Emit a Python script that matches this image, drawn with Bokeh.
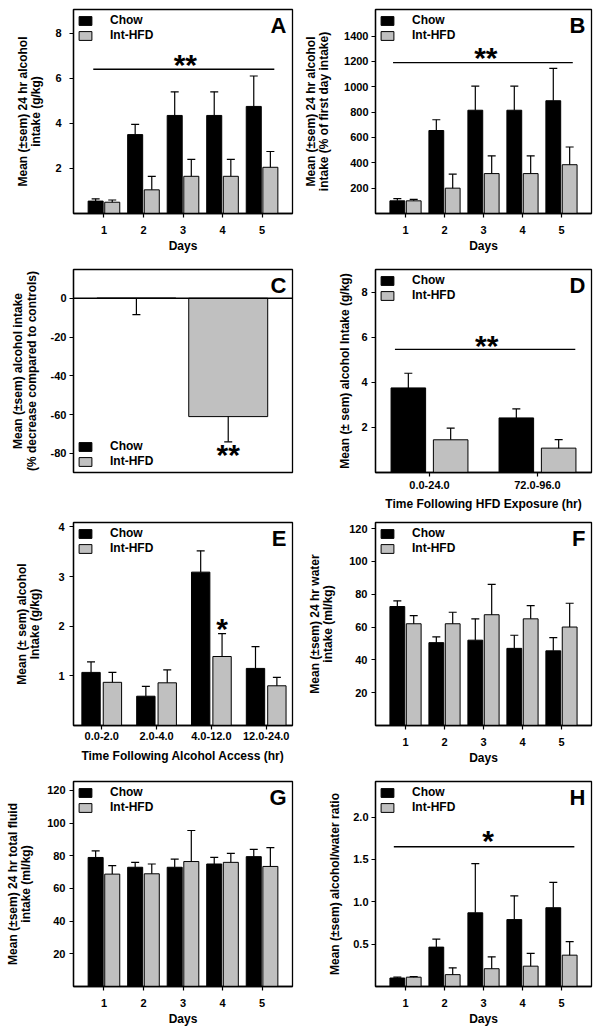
from bokeh.plotting import figure
from bokeh.models import (ColumnDataSource, Whisker, TeeHead, Legend, LegendItem,
                          Label, Span, FixedTicker, Range1d)
from bokeh.layouts import gridplot
from bokeh.embed import file_html
from bokeh.resources import INLINE

FONT = "Liberation Sans"
GRAY = "#c0c0c0"

# ---------------- data ----------------
days = [1, 2, 3, 4, 5]
day_labels = ["1", "2", "3", "4", "5"]

# A: 24 hr alcohol intake (g/kg)
a_chow = [0.55, 3.5, 4.35, 4.35, 4.75]
a_chow_err = [0.65, 3.95, 5.4, 5.4, 6.1]
a_hfd = [0.5, 1.05, 1.65, 1.65, 2.05]
a_hfd_err = [0.6, 1.65, 2.4, 2.4, 2.75]
a_sig_x = [0.73, 5.31]
a_sig_y = 6.4
a_star_x = 3.06

# B: % of first day intake
b_chow = [100, 655, 815, 815, 890]
b_chow_err = [118, 740, 1005, 1005, 1145]
b_hfd = [100, 200, 315, 315, 385]
b_hfd_err = [112, 310, 455, 455, 525]
b_sig_x = [0.68, 5.29]
b_sig_y = 1190
b_star_x = 3.06

# C: % decrease compared to controls
c_pos = [1, 2]
c_vals = [0, -61]
c_err = [-8.5, -74]

# D: intake by time following HFD exposure
d_pos = [1, 2]
d_labels = ["0.0-24.0", "72.0-96.0"]
d_chow = [3.75, 2.42]
d_chow_err = [4.4, 2.82]
d_hfd = [1.45, 1.08]
d_hfd_err = [1.97, 1.46]
d_sig_x = [0.68, 2.35]
d_sig_y = 5.46
d_star_x = 1.53

# E: intake by time following alcohol access
e_pos = [1, 2, 3, 4]
e_labels = ["0.0-2.0", "2.0-4.0", "4.0-12.0", "12.0-24.0"]
e_chow = [1.07, 0.59, 3.09, 1.15]
e_chow_err = [1.28, 0.79, 3.52, 1.59]
e_hfd = [0.87, 0.86, 1.39, 0.80]
e_hfd_err = [1.07, 1.12, 1.85, 0.97]
e_star_group = 3

# F: water intake (ml/kg)
f_chow = [72.5, 50.5, 52, 47, 45.5]
f_chow_err = [76, 54, 65, 55, 53.5]
f_hfd = [62, 62, 67.5, 65, 60]
f_hfd_err = [67, 69, 86, 73, 74.5]

# G: total fluid intake (ml/kg)
g_chow = [79, 73, 73, 75, 79.5]
g_chow_err = [83, 76, 78, 79, 84]
g_hfd = [68.8, 69, 76.5, 76, 73.5]
g_hfd_err = [74, 75, 95.5, 81.5, 85]

# H: alcohol/water ratio
h_chow = [0.10, 0.465, 0.87, 0.79, 0.93]
h_chow_err = [0.11, 0.56, 1.45, 1.07, 1.23]
h_hfd = [0.11, 0.14, 0.21, 0.24, 0.37]
h_hfd_err = [0.118, 0.22, 0.35, 0.39, 0.53]
h_sig_x = [0.70, 5.33]
h_sig_y = 1.65
h_star_x = 3.12


# ---------------- helpers ----------------
def make_fig(w, h, bl, br, bt, bb, xr, yr):
    p = figure(width=w, height=h, x_range=Range1d(*xr), y_range=Range1d(*yr),
               output_backend="svg", toolbar_location=None, tools="",
               min_border_left=bl, min_border_right=br,
               min_border_top=bt, min_border_bottom=bb)
    p.xgrid.visible = False
    p.ygrid.visible = False
    p.outline_line_color = "black"
    p.outline_line_width = 1.3
    p.outline_line_alpha = 1
    p.background_fill_color = "white"
    p.border_fill_color = "white"
    return p


def style_y(p, ticks, label, fmt, tick_std, lab_std):
    ax = p.yaxis[0]
    ax.ticker = FixedTicker(ticks=ticks)
    ax.major_label_overrides = {t: fmt(t) for t in ticks}
    ax.minor_tick_line_color = None
    ax.major_tick_in = 0
    ax.major_tick_out = 4
    ax.major_tick_line_width = 1.2
    ax.axis_line_width = 1.3
    ax.major_label_standoff = tick_std
    ax.major_label_text_font = FONT
    ax.major_label_text_font_style = "bold"
    ax.major_label_text_font_size = "11px"
    ax.major_label_text_color = "black"
    ax.axis_label = label
    ax.axis_label_standoff = lab_std
    ax.axis_label_text_font = FONT
    ax.axis_label_text_font_style = "bold"
    ax.axis_label_text_font_size = "12px"
    ax.axis_label_text_color = "black"
    ax.axis_label_text_line_height = 0.95


def style_x(p, ticks, labels, label, tick_std, lab_std):
    ax = p.xaxis[0]
    ax.ticker = FixedTicker(ticks=ticks)
    ax.major_label_overrides = {t: l for t, l in zip(ticks, labels)}
    ax.minor_tick_line_color = None
    ax.major_tick_in = 0
    ax.major_tick_out = 4
    ax.major_tick_line_width = 1.2
    ax.axis_line_width = 1.3
    ax.major_label_standoff = tick_std
    ax.major_label_text_font = FONT
    ax.major_label_text_font_style = "bold"
    ax.major_label_text_font_size = "11px"
    ax.major_label_text_color = "black"
    ax.axis_label = label
    ax.axis_label_standoff = lab_std
    ax.axis_label_text_font = FONT
    ax.axis_label_text_font_style = "bold"
    ax.axis_label_text_font_size = "12px"
    ax.axis_label_text_color = "black"


def whisker(src, lower, upper, up_cap=True):
    head = TeeHead(size=8, line_color="black", line_width=1.2)
    return Whisker(source=src, base="x", lower=lower, upper=upper, dimension="height",
                   line_color="black", line_width=1.2, level="overlay",
                   upper_head=head if up_cap else None,
                   lower_head=None if up_cap else head)


def grouped_bars(p, pos, chow, chow_err, hfd, hfd_err, off, width):
    src_c = ColumnDataSource(dict(x=[v - off for v in pos], top=chow, err=chow_err))
    src_h = ColumnDataSource(dict(x=[v + off for v in pos], top=hfd, err=hfd_err))
    rc = p.vbar(x="x", top="top", bottom=0, width=width, source=src_c,
                fill_color="black", line_color="black", line_width=1)
    rh = p.vbar(x="x", top="top", bottom=0, width=width, source=src_h,
                fill_color=GRAY, line_color="black", line_width=1)
    p.add_layout(whisker(src_c, "top", "err"))
    p.add_layout(whisker(src_h, "top", "err"))
    return rc, rh


def add_legend(p, rc, rh, location="top_left"):
    lg = Legend(items=[LegendItem(label="Chow", renderers=[rc]),
                       LegendItem(label="Int-HFD", renderers=[rh])],
                location=location, glyph_width=16, glyph_height=11,
                label_standoff=17, spacing=1, padding=6, margin=4,
                label_height=12, border_line_color=None,
                background_fill_alpha=0,
                label_text_font=FONT, label_text_font_style="bold",
                label_text_font_size="12px", label_text_color="black")
    p.add_layout(lg)


def add_letter(p, letter):
    p.add_layout(Label(x=p.x_range.end, y=p.y_range.end, text=letter,
                       x_offset=-6, y_offset=-16, text_align="right",
                       text_baseline="alphabetic", text_font=FONT,
                       text_font_style="bold", text_font_size="22px",
                       text_color="black"))


def add_sig(p, xs, y, star_x, text, dy):
    p.segment(x0=[xs[0]], y0=[y], x1=[xs[1]], y1=[y], line_color="black", line_width=1.3)
    add_star(p, star_x, y, text, dy)


def add_star(p, x, y, text, dy):
    p.add_layout(Label(x=x, y=y, text=text, y_offset=dy, text_align="center",
                       text_baseline="alphabetic", text_font=FONT,
                       text_font_style="bold", text_font_size="30px",
                       text_color="black"))


int_fmt = lambda t: str(int(t))
one_dec = lambda t: "%.1f" % t

W1, W2 = 300, 300
H = [259, 259, 259, 257]
BT = [9, 10, 4, 4]
BB = [46, 46, 52, 48]
DAY_X = (0.23, 5.77)

# ---------------- A ----------------
pa = make_fig(W1, H[0], 73, 8, BT[0], BB[0], DAY_X, (0, 9.05))
rc, rh = grouped_bars(pa, days, a_chow, a_chow_err, a_hfd, a_hfd_err, 0.21, 0.38)
style_y(pa, [2, 4, 6, 8], "Mean (\u00b1sem) 24 hr alcohol\nintake (g/kg)", int_fmt, 8, 9)
style_x(pa, days, day_labels, "Days", 8, 2)
add_legend(pa, rc, rh)
add_letter(pa, "A")
add_sig(pa, a_sig_x, a_sig_y, a_star_x, "**", 5)

# ---------------- B ----------------
pb = make_fig(W2, H[0], 72, 8, BT[0], BB[0], DAY_X, (0, 1610))
rc, rh = grouped_bars(pb, days, b_chow, b_chow_err, b_hfd, b_hfd_err, 0.21, 0.38)
style_y(pb, [200, 400, 600, 800, 1000, 1200, 1400],
        "Mean (\u00b1sem) 24 hr alcohol\nintake (% of first day intake)", int_fmt, 3, 10)
style_x(pb, days, day_labels, "Days", 8, 2)
add_legend(pb, rc, rh)
add_letter(pb, "B")
add_sig(pb, b_sig_x, b_sig_y, b_star_x, "**", 5)

# ---------------- C ----------------
pc = make_fig(W1, H[1], 73, 8, BT[1], BB[1], (0.315, 2.70), (-89.8, 14.8))
src_cc = ColumnDataSource(dict(x=[c_pos[0]], top=[c_vals[0]], err=[c_err[0]]))
src_ch = ColumnDataSource(dict(x=[c_pos[1]], top=[c_vals[1]], err=[c_err[1]]))
rc = pc.vbar(x="x", top="top", bottom=0, width=0.86, source=src_cc,
             fill_color="black", line_color="black", line_width=1)
rh = pc.vbar(x="x", top="top", bottom=0, width=0.86, source=src_ch,
             fill_color=GRAY, line_color="black", line_width=1)
pc.add_layout(whisker(src_cc, "err", "top", up_cap=False))
pc.add_layout(whisker(src_ch, "err", "top", up_cap=False))
pc.add_layout(Span(location=0, dimension="width", line_color="black", line_width=1.5))
style_y(pc, [-80, -60, -40, -20, 0],
        "Mean (\u00b1sem) alcohol intake\n(% decrease compared to controls)", int_fmt, 3, 9)
pc.xaxis.visible = False
add_legend(pc, rc, rh, "bottom_left")
add_letter(pc, "C")
add_star(pc, c_pos[1], c_err[1], "**", -13)

# ---------------- D ----------------
pd_ = make_fig(W2, H[1], 72, 9, BT[1], BB[1], (0.5, 2.5), (0, 9.0))
rc, rh = grouped_bars(pd_, d_pos, d_chow, d_chow_err, d_hfd, d_hfd_err, 0.196, 0.32)
style_y(pd_, [2, 4, 6, 8], "Mean (\u00b1 sem) alcohol Intake (g/kg)", int_fmt, 4, 6)
style_x(pd_, d_pos, d_labels, "Time Following HFD Exposure (hr)", 4, 5)
add_legend(pd_, rc, rh)
add_letter(pd_, "D")
add_sig(pd_, d_sig_x, d_sig_y, d_star_x, "**", 4)

# ---------------- E ----------------
pe = make_fig(W1, H[2], 73, 8, BT[2], BB[2], (0.485, 4.48), (0, 4.09))
rc, rh = grouped_bars(pe, e_pos, e_chow, e_chow_err, e_hfd, e_hfd_err, 0.195, 0.335)
style_y(pe, [1, 2, 3, 4], "Mean (\u00b1 sem) alcohol\nIntake (g/kg)", int_fmt, 5, 13)
style_x(pe, e_pos, e_labels, "Time Following Alcohol Access (hr)", 2, 6)
add_legend(pe, rc, rh)
add_letter(pe, "E")
add_star(pe, e_star_group + 0.195, e_hfd_err[e_star_group - 1], "*", 5)

# ---------------- F ----------------
pf = make_fig(W2, H[2], 72, 8, BT[2], BB[2], DAY_X, (0, 123.7))
rc, rh = grouped_bars(pf, days, f_chow, f_chow_err, f_hfd, f_hfd_err, 0.21, 0.38)
style_y(pf, [20, 40, 60, 80, 100, 120],
        "Mean (\u00b1sem) 24 hr water\nintake (ml/kg)", int_fmt, 4, 11)
style_x(pf, days, day_labels, "Days", 8, 2)
add_legend(pf, rc, rh)
add_letter(pf, "F")

# ---------------- G ----------------
pg = make_fig(W1, H[3], 73, 8, BT[3], BB[3], DAY_X, (0, 125.5))
rc, rh = grouped_bars(pg, days, g_chow, g_chow_err, g_hfd, g_hfd_err, 0.21, 0.38)
style_y(pg, [20, 40, 60, 80, 100, 120],
        "Mean (\u00b1sem) 24 hr total fluid\nintake (ml/kg)", int_fmt, 4, 11)
style_x(pg, days, day_labels, "Days", 8, 2)
add_legend(pg, rc, rh)
add_letter(pg, "G")

# ---------------- H ----------------
ph = make_fig(W2, H[3], 72, 8, BT[3], BB[3], DAY_X, (0, 2.42))
rc, rh = grouped_bars(ph, days, h_chow, h_chow_err, h_hfd, h_hfd_err, 0.21, 0.38)
style_y(ph, [0.5, 1.0, 1.5, 2.0], "Mean (\u00b1sem) alcohol/water ratio", one_dec, 3, 8)
style_x(ph, days, day_labels, "Days", 8, 2)
add_legend(ph, rc, rh)
add_letter(ph, "H")
add_sig(ph, h_sig_x, h_sig_y, h_star_x, "*", 6)

grid = gridplot([[pa, pb], [pc, pd_], [pe, pf], [pg, ph]], toolbar_location=None)

open("out.html", "w").write(file_html(grid, INLINE))
